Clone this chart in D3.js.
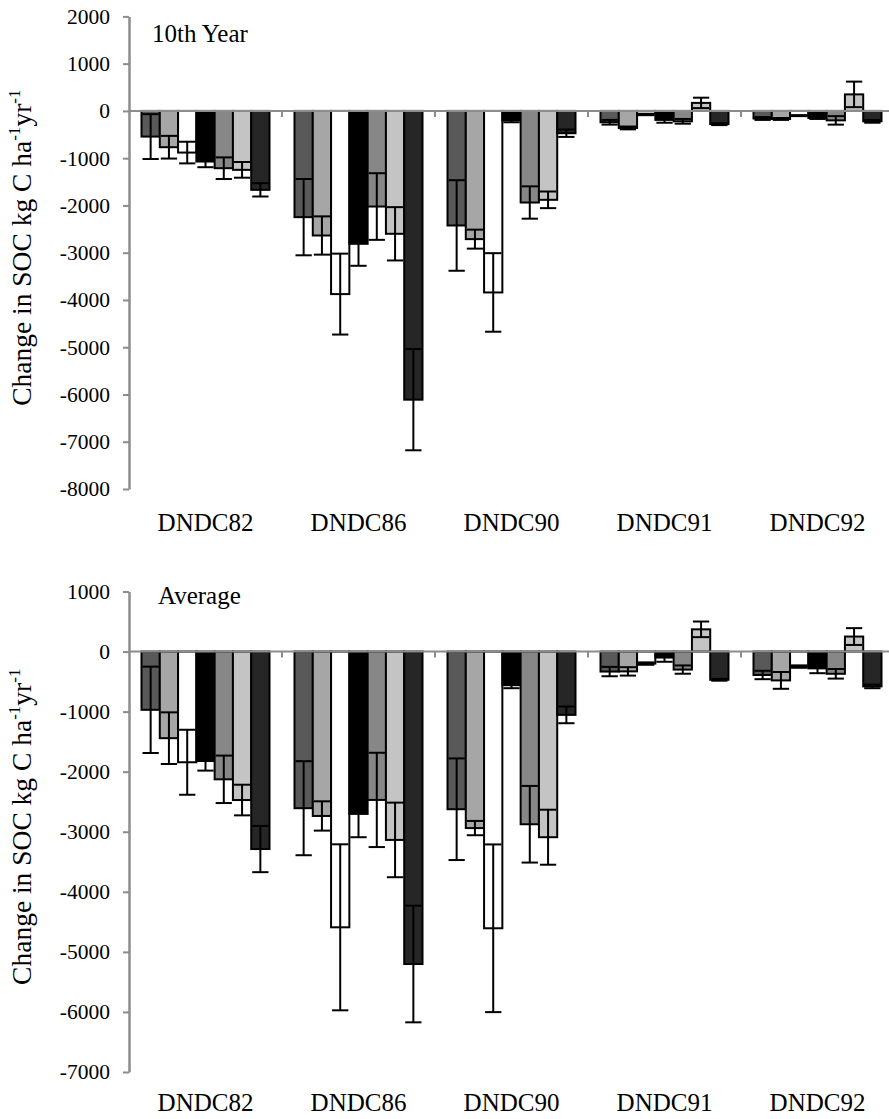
<!DOCTYPE html>
<html>
<head>
<meta charset="utf-8">
<script src="https://cdn.jsdelivr.net/npm/d3@7/dist/d3.min.js"></script>
<style>
	body { margin: 0; background: #fff; }
	svg text { font-family: "Liberation Serif", "Times New Roman", "DejaVu Serif", serif; fill: #000; }
</style>
</head>
<body>
<svg id="chart" width="889" height="1119"></svg>
<script>
	'use strict';
	var categories = ['DNDC82', 'DNDC86', 'DNDC90', 'DNDC91', 'DNDC92'];

	// 7 bars per model, one row per category
	var year10Mean = [
		[-543, -768, -881, -1071, -1212, -1247, -1670],
		[-2248, -2636, -3876, -2812, -2023, -2600, -6110],
		[-2424, -2713, -3841, -200, -1938, -1881, -472],
		[-240, -360, -75, -190, -220, 170, -280],
		[-160, -170, -100, -150, -200, 350, -220]
	];
	var year10Err = [
		[475, 240, 229, 120, 229, 166, 141],
		[807, 405, 856, 465, 705, 564, 1071],
		[958, 201, 831, 40, 342, 176, 78],
		[50, 30, 15, 60, 50, 110, 20],
		[30, 20, 10, 20, 90, 270, 30]
	];
	var averageMean = [
		[-970, -1442, -1843, -1822, -2127, -2472, -3288],
		[-2608, -2737, -4591, -2703, -2470, -3136, -5202],
		[-2625, -2939, -4607, -560, -2875, -3091, -1054],
		[-333, -330, -200, -100, -300, 370, -470],
		[-390, -480, -250, -280, -370, 250, -580]
	];
	var averageErr = [
		[719, 430, 541, 160, 395, 255, 385],
		[783, 244, 1382, 388, 785, 621, 971],
		[846, 119, 1396, 50, 638, 458, 139],
		[78, 70, 20, 70, 69, 130, 15],
		[70, 140, 20, 80, 80, 140, 30]
	];
	var year10Ticks = [2000, 1000, 0, -1000, -2000, -3000, -4000, -5000, -6000, -7000, -8000];
	var averageTicks = [1000, 0, -1000, -2000, -3000, -4000, -5000, -6000, -7000];

	var barFills = ['#595959', '#a6a6a6', '#ffffff', '#000000', '#878787', '#c4c4c4', '#262626'];
	var axisColor = '#8c8c8c';

	var svg = d3.select('#chart');

	var x = d3.scaleBand()
		.domain(categories)
		.range([129, 894])
		.paddingInner(0)
		.paddingOuter(0);

	var xInner = d3.scaleBand()
		.domain(d3.range(7))
		.range([12.5, x.bandwidth() - 12.5])
		.padding(0);

	function drawPanel(opts) {
		var y = d3.scaleLinear()
			.domain(opts.domain)
			.range(opts.range);
		var g = svg.append('g');
		var y0 = y(0);

		// bars
		categories.forEach(function (cat, ci) {
			var grp = g.append('g')
				.attr('transform', 'translate(' + x(cat) + ',0)');
			opts.mean[ci].forEach(function (v, si) {
				var bx = xInner(si);
				var bw = xInner.bandwidth();
				grp.append('rect')
					.attr('x', bx)
					.attr('width', bw)
					.attr('y', Math.min(y(v), y0))
					.attr('height', Math.abs(y(v) - y0))
					.attr('fill', barFills[si])
					.attr('stroke', '#000')
					.attr('stroke-width', 2);
				var e = opts.err[ci][si];
				var cx = bx + bw / 2;
				var capHalf = bw / 2 - 1;
				var eb = grp.append('g')
					.attr('stroke', '#000')
					.attr('stroke-width', 2);
				eb.append('line')
					.attr('x1', cx).attr('x2', cx)
					.attr('y1', y(v + e)).attr('y2', y(v - e));
				eb.append('line')
					.attr('x1', cx - capHalf).attr('x2', cx + capHalf)
					.attr('y1', y(v + e)).attr('y2', y(v + e));
				eb.append('line')
					.attr('x1', cx - capHalf).attr('x2', cx + capHalf)
					.attr('y1', y(v - e)).attr('y2', y(v - e));
			});
		});

		// zero line with category ticks
		g.append('line')
			.attr('x1', 129).attr('x2', 889)
			.attr('y1', y0).attr('y2', y0)
			.attr('stroke', axisColor)
			.attr('stroke-width', 2);
		categories.slice(1).forEach(function (cat) {
			g.append('line')
				.attr('x1', x(cat)).attr('x2', x(cat))
				.attr('y1', y0).attr('y2', y0 + 6)
				.attr('stroke', axisColor)
				.attr('stroke-width', 2);
		});

		// y axis
		var axis = g.append('g')
			.attr('transform', 'translate(129,0)')
			.call(d3.axisLeft(y)
				.tickValues(opts.ticks)
				.tickFormat(function (d) { return String(d); })
				.tickSize(6)
				.tickSizeOuter(0)
				.tickPadding(13));
		axis.select('.domain').attr('stroke', axisColor).attr('stroke-width', 2.5);
		axis.selectAll('.tick line').attr('stroke', axisColor).attr('stroke-width', 2);
		axis.selectAll('.tick text')
			.attr('fill', '#000')
			.style('font-family', '"Liberation Serif", serif')
			.style('font-size', '21.5px');

		// category labels at the bottom
		g.selectAll('.cat')
			.data(categories)
			.enter().append('text')
			.attr('x', function (d) { return x(d) + x.bandwidth() / 2; })
			.attr('y', opts.labelY)
			.attr('text-anchor', 'middle')
			.style('font-size', '25px')
			.text(function (d) { return d; });

		// panel label
		g.append('text')
			.attr('x', opts.titleX)
			.attr('y', opts.titleY)
			.style('font-size', '25px')
			.text(opts.title);

		// y axis title
		var midY = (opts.range[0] + opts.range[1]) / 2 - 5;
		var t = g.append('text')
			.attr('transform', 'translate(31,' + midY + ') rotate(-90)')
			.attr('text-anchor', 'middle')
			.style('font-size', '27.5px');
		t.append('tspan').text('Change in SOC kg C ha');
		t.append('tspan').attr('dy', -11).style('font-size', '17px').text('-1');
		t.append('tspan').attr('dy', 11).text('yr');
		t.append('tspan').attr('dy', -11).style('font-size', '17px').text('-1');
	}

	drawPanel({
		domain: [-8000, 2000], range: [489, 16.4],
		mean: year10Mean, err: year10Err, ticks: year10Ticks,
		labelY: 531, title: '10th Year', titleX: 152, titleY: 42
	});
	drawPanel({
		domain: [-7000, 1000], range: [1072, 591.5],
		mean: averageMean, err: averageErr, ticks: averageTicks,
		labelY: 1111, title: 'Average', titleX: 158, titleY: 604
	});
</script>
</body>
</html>
